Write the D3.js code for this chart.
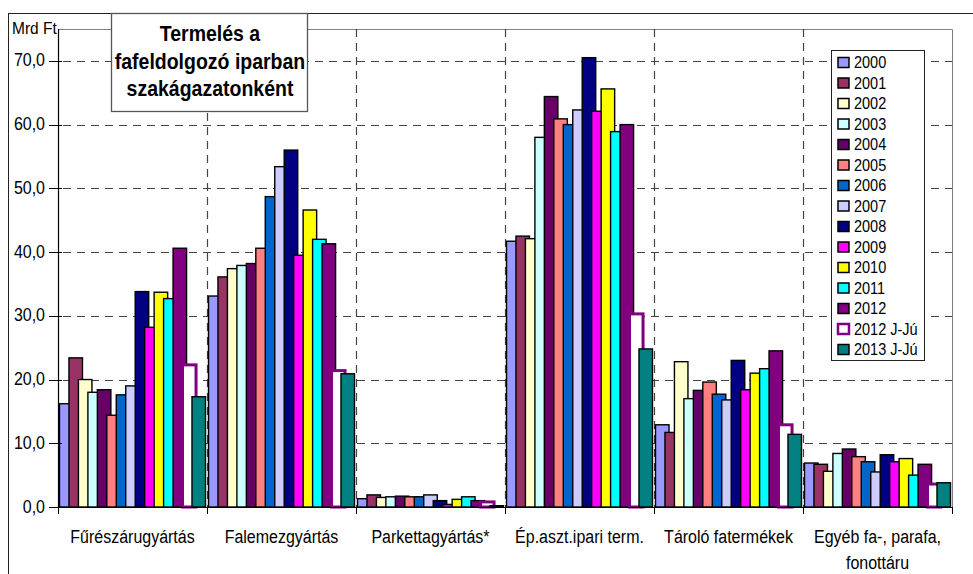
<!DOCTYPE html>
<html>
<head>
<meta charset="utf-8">
<script src="https://cdn.jsdelivr.net/npm/d3@7"></script>
<style>
  body { margin: 0; background: #fff; }
  text { font-family: "Liberation Sans", Arial, sans-serif; fill: #000; }
</style>
</head>
<body>
<div id="chart"></div>
<script>
const categories = [
  "Fűrészárugyártás",
  "Falemezgyártás",
  "Parkettagyártás*",
  "Ép.aszt.ipari term.",
  "Tároló fatermékek",
  "Egyéb fa-, parafa,\nfonottáru"
];
const years = ["2000", "2001", "2002", "2003", "2004", "2005", "2006", "2007",
  "2008", "2009", "2010", "2011", "2012", "2012 J-Jú", "2013 J-Jú"];

// values per category, one per year (Mrd Ft)
const fureszaru = [16.2, 23.4, 20.0, 18.0, 18.4, 14.4, 17.6, 19.0, 33.8, 28.2, 33.7, 32.7, 40.6, 22.3, 17.3];
const falemez   = [33.1, 36.1, 37.4, 37.9, 38.2, 40.6, 48.7, 53.4, 56.0, 39.5, 46.6, 42.0, 41.3, 21.4, 20.9];
const parketta  = [1.3, 1.9, 1.5, 1.6, 1.7, 1.6, 1.6, 1.9, 1.0, 0.4, 1.2, 1.6, 1.0, 0.8, 0.2];
const epaszt    = [41.7, 42.5, 42.1, 58.0, 64.4, 60.9, 60.0, 62.3, 70.5, 62.1, 65.6, 58.9, 60.0, 30.3, 24.8];
const tarolo    = [12.9, 11.7, 22.8, 17.0, 18.3, 19.6, 17.7, 16.8, 23.0, 18.4, 21.0, 21.7, 24.5, 12.9, 11.4];
const egyeb     = [6.9, 6.7, 5.6, 8.4, 9.1, 7.9, 7.1, 5.5, 8.2, 7.1, 7.6, 5.0, 6.7, 3.6, 3.8];

const yTicks = [0, 10, 20, 30, 40, 50, 60, 70];
const titleLines = ["Termelés a", "fafeldolgozó iparban", "szakágazatonként"];

const fills = ["#9999ff", "#993366", "#ffffcc", "#ccffff", "#660066", "#ff8080", "#0066cc",
  "#ccccff", "#000080", "#ff00ff", "#ffff00", "#00ffff", "#800080", "#ffffff", "#008080"];

const rows = [fureszaru, falemez, parketta, epaszt, tarolo, egyeb];
// one series per year, like excel draws them
const series = years.map((yr, i) => ({
  year: yr,
  i: i,
  values: categories.map((c, j) => ({ cat: c, value: rows[j][i] }))
}));

const W = 973, H = 574;
const plot = { left: 58, right: 952, top: 29, bottom: 507 };
const SY = 1.1; // text in the source is a bit stretched vertically

const svg = d3.select("#chart").append("svg")
  .attr("width", W).attr("height", H);

// chart area border
svg.append("rect")
  .attr("x", 8.5).attr("y", 13.5)
  .attr("width", 1000).attr("height", 700)
  .attr("fill", "#fff").attr("stroke", "#222").attr("stroke-width", 1);

const x = d3.scaleBand().domain(categories).range([plot.left, plot.right]).padding(0);
const y = d3.scaleLinear().domain([0, 75]).range([plot.bottom, plot.top]);

const pad = 1.5;
const step = (x.bandwidth() - 2 * pad) / (years.length - 1 + 1 / 0.7);
const barW = step / 0.7; // 30% overlap
const inner = d3.scaleBand().domain(years).range([pad, pad + step * years.length]).padding(0);

// plot border (top and right, grey)
svg.append("path")
  .attr("d", `M${plot.left},${plot.top + 0.5}H${plot.right + 0.5}V${plot.bottom}`)
  .attr("fill", "none").attr("stroke", "#808080").attr("stroke-width", 1);

// horizontal dashed grid
svg.append("g").selectAll("line")
  .data(yTicks.filter(d => d > 0))
  .join("line")
  .attr("x1", plot.left + 5).attr("x2", plot.right)
  .attr("y1", d => Math.round(y(d)) + 0.5).attr("y2", d => Math.round(y(d)) + 0.5)
  .attr("stroke", "#444").attr("stroke-width", 1.2)
  .attr("stroke-dasharray", "8,6");

// vertical dashed lines between categories
svg.append("g").selectAll("line")
  .data(categories.slice(1))
  .join("line")
  .attr("x1", d => Math.round(x(d)) + 0.5).attr("x2", d => Math.round(x(d)) + 0.5)
  .attr("y1", plot.top).attr("y2", plot.bottom)
  .attr("stroke", "#444").attr("stroke-width", 1.2)
  .attr("stroke-dasharray", "8,6");

// bars, series by series
const barsG = svg.append("g");
series.forEach(s => {
  const hollow = s.year === "2012 J-Jú";
  barsG.append("g").selectAll("rect")
    .data(s.values)
    .join("rect")
    .attr("x", d => x(d.cat) + inner(s.year))
    .attr("width", barW)
    .attr("y", d => y(d.value))
    .attr("height", d => y(0) - y(d.value))
    .attr("fill", fills[s.i])
    .attr("stroke", hollow ? "#800080" : "#000")
    .attr("stroke-width", hollow ? 3 : 1.4);
});

// axes
svg.append("line")
  .attr("x1", plot.left + 0.5).attr("x2", plot.left + 0.5)
  .attr("y1", plot.top).attr("y2", plot.bottom)
  .attr("stroke", "#000").attr("stroke-width", 1.2);
svg.append("line")
  .attr("x1", plot.left).attr("x2", plot.right + 1)
  .attr("y1", plot.bottom + 0.5).attr("y2", plot.bottom + 0.5)
  .attr("stroke", "#000").attr("stroke-width", 1.2);

// y ticks + labels
const yAx = svg.append("g");
yAx.selectAll("line")
  .data(yTicks)
  .join("line")
  .attr("x1", plot.left - 9).attr("x2", plot.left + 4)
  .attr("y1", d => Math.round(y(d)) + 0.5).attr("y2", d => Math.round(y(d)) + 0.5)
  .attr("stroke", "#000");
yAx.selectAll("text")
  .data(yTicks)
  .join("text")
  .attr("transform", d => `translate(${plot.left - 13},${y(d) + 5.5}) scale(1,${SY})`)
  .attr("text-anchor", "end")
  .style("font-size", "16px")
  .text(d => d3.format(".1f")(d).replace(".", ","));

svg.append("text")
  .attr("transform", `translate(12,34) scale(1,${SY})`)
  .style("font-size", "15.5px")
  .text("Mrd Ft");

// x ticks at category boundaries
svg.append("g").selectAll("line")
  .data(categories.map(c => x(c)).concat([plot.right]))
  .join("line")
  .attr("x1", d => Math.round(d) + 0.5).attr("x2", d => Math.round(d) + 0.5)
  .attr("y1", plot.bottom).attr("y2", plot.bottom + 7)
  .attr("stroke", "#000");

// category labels
const catG = svg.append("g");
categories.forEach(c => {
  c.split("\n").forEach((line, k) => {
    catG.append("text")
      .attr("transform", `translate(${x(c) + x.bandwidth() / 2},${543 + k * 26}) scale(1,${SY})`)
      .attr("text-anchor", "middle")
      .style("font-size", "16px")
      .text(line);
  });
});

// title box
const tb = { x: 111, y: 13, w: 196, h: 98 };
svg.append("rect")
  .attr("x", tb.x + 0.5).attr("y", tb.y + 0.5)
  .attr("width", tb.w).attr("height", tb.h)
  .attr("fill", "#fff").attr("stroke", "#555").attr("stroke-width", 1.3);
titleLines.forEach((t, k) => {
  svg.append("text")
    .attr("transform", `translate(${tb.x + tb.w / 2 + 1},${41 + k * 27.5}) scale(1,1.15)`)
    .attr("text-anchor", "middle")
    .style("font-size", "19.5px")
    .style("font-weight", "bold")
    .text(t);
});

// legend
const lg = svg.append("g");
lg.append("rect")
  .attr("x", 831.5).attr("y", 50.5)
  .attr("width", 93).attr("height", 310)
  .attr("fill", "#fff").attr("stroke", "#222").attr("stroke-width", 1);
const item = lg.selectAll("g.item")
  .data(series)
  .join("g")
  .attr("class", "item")
  .attr("transform", (d, i) => `translate(838,${62.5 + i * 20.5})`);
item.append("rect")
  .attr("x", 0).attr("y", -5)
  .attr("width", 11).attr("height", 10)
  .attr("fill", d => fills[d.i])
  .attr("stroke", d => d.year === "2012 J-Jú" ? "#800080" : "#000")
  .attr("stroke-width", d => d.year === "2012 J-Jú" ? 2.5 : 1.5);
item.append("text")
  .attr("transform", `translate(16,5.5) scale(1,${SY})`)
  .style("font-size", "14.5px")
  .text(d => d.year);
</script>
</body>
</html>
